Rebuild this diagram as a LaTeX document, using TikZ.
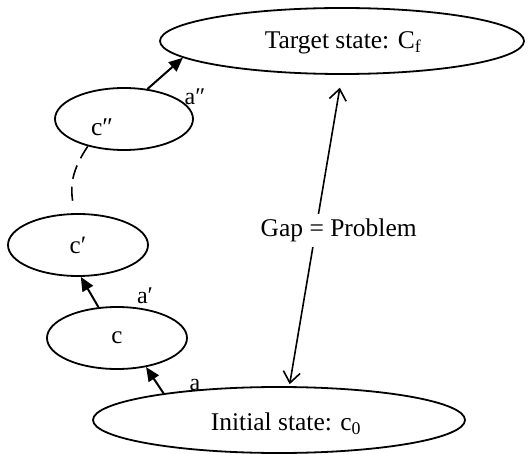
\documentclass[tikz,border=0pt]{standalone}
\usepackage{fontspec}
\setmainfont{Liberation Serif}
\usetikzlibrary{arrows.meta,shapes.geometric}
\begin{document}
\begin{tikzpicture}[x=1pt,y=-1pt,
  state/.style={draw, ellipse, line width=1.8pt, inner sep=0pt,
                font=\fontsize{25}{28}\selectfont},
  move/.style={line width=2pt, -{Triangle[length=14pt,width=12pt]}},
  gaparrow/.style={line width=1.6pt,
                   {Straight Barb[length=11pt,width=17pt]}-{Straight Barb[length=11pt,width=17pt]}},
  lbl/.style={font=\fontsize{24}{26}\selectfont, inner sep=0pt},
  txt/.style={font=\fontsize{25.5}{28}\selectfont, inner sep=0pt}]
\useasboundingbox (0,0) rectangle (527,454);

% states
\node[state, minimum width=364pt, minimum height=66pt] (target) at (342,41) {};
\node[txt] (targettext) at (343,43) {Target state: C\textsubscript{f}};
\node[state, minimum width=138pt, minimum height=62pt] (c2) at (124,119) {};
\node[txt] (c2text) at (102,127) {c″};
\node[state, minimum width=140pt, minimum height=62pt] (c1) at (78,245) {c′};
\node[state, minimum width=140pt, minimum height=62pt] (c0) at (117,338) {c};
\node[state, minimum width=372pt, minimum height=66pt] (initial) at (279,420) {};
\node[txt] (initialtext) at (286,424) {Initial state: c\textsubscript{0}};

% actions
\draw[move] (initial.167) -- (c0.-45);
\draw[move] (c0.121) -- (c1.-85);
\draw[move] (c2.52) -- (target.186);

\node[lbl] (a0) at (195,385) {a};
\node[lbl] (a1) at (145,296) {a′};
\node[lbl] (a2) at (195,97) {a″};

% intermediate states left out
\coordinate (dashend) at (74,208);
\draw[line width=1.6pt, dash pattern=on 14pt off 8pt]
  (c2.-143) .. controls (72,170) and (69,186) .. (dashend);

% the gap between the two states
\draw[gaparrow, shorten <=13pt, shorten >=2pt] (target.south) --
  node[pos=0.5, xshift=23pt, fill=white, txt, inner sep=5pt] (gap) {Gap = Problem}
  (initial.73);
\end{tikzpicture}
\end{document}
